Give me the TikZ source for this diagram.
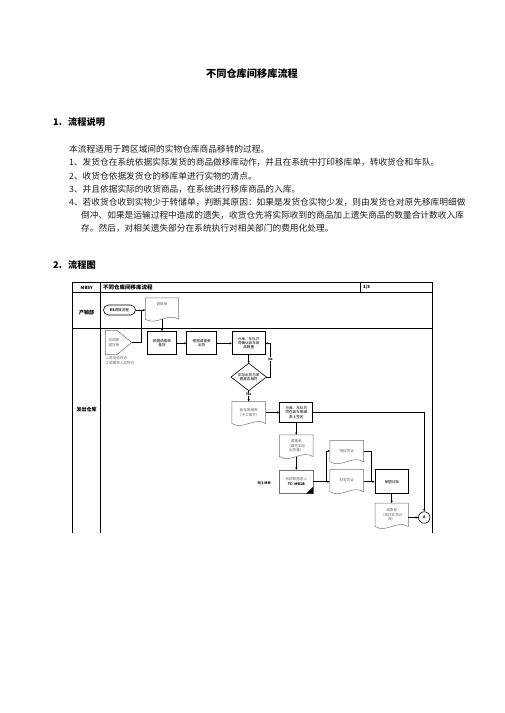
\documentclass[tikz,border=0pt]{standalone}
\usepackage{fontspec}
\setmainfont{Noto Sans CJK SC}
\usetikzlibrary{calc,arrows.meta}
\newcommand\docshape[1]{\draw[docline] (#1.south east) .. controls ($(#1.south west)!0.667!(#1.south east)+(0,-7)$) and ($(#1.south west)!0.333!(#1.south east)+(0,7)$) .. (#1.south west) -- (#1.north west) -- (#1.north east) -- cycle;}
\tikzset{
  titletext/.style={font=\fontsize{10.2}{12}\selectfont\bfseries, inner sep=0},
  headtext/.style={font=\fontsize{9.2}{11}\selectfont\bfseries, anchor=west, inner sep=0},
  bodytext/.style={font=\fontsize{8.7}{10}\selectfont, text=black!88, anchor=west, inner sep=0},
  frameline/.style={line width=0.9pt},
  tiny/.style={font=\fontsize{3.6}{4.3}\selectfont, align=center, inner sep=0},
  boxnode/.style={tiny, draw, line width=0.95pt, minimum width=32.7pt, minimum height=22pt},
  docnode/.style={tiny, text=black!60, minimum width=33.3pt},
  docline/.style={draw=black!55, line width=0.5pt},
  conn/.style={line width=0.6pt, -{Stealth[length=2.4pt,width=2.2pt]}},
  plainline/.style={line width=0.6pt},
  lanetext/.style={font=\fontsize{5}{6}\selectfont\bfseries, inner sep=0},
  yesno/.style={font=\fontsize{3.2}{4}\selectfont\bfseries, fill=white, inner sep=0.3pt},
}
\begin{document}
\begin{tikzpicture}[x=1pt,y=-1pt]
\useasboundingbox (0,0) rectangle (504,713);
\fill[white] (0,0) rectangle (504,713);

% title and text
\node[titletext] (title) at (252,73.5) {不同仓库间移库流程};
\node[headtext] (h1n) at (53,122) {1.};
\node[headtext] (h1) at (68,122) {流程说明};
\node[bodytext] (l0) at (69,149.5) {本流程适用于跨区域间的实物仓库商品移转的过程。};
\node[bodytext] (l1) at (69,162.7) {1、发货仓在系统依据实际发货的商品做移库动作，并且在系统中打印移库单，转收货仓和车队。};
\node[bodytext] (l2) at (69,175.9) {2、收货仓依据发货仓的移库单进行实物的清点。};
\node[bodytext] (l3) at (69,189.1) {3、并且依据实际的收货商品，在系统进行移库商品的入库。};
\node[bodytext] (l4) at (69,202.3) {4、若收货仓收到实物少于转储单，判断其原因：如果是发货仓实物少发，则由发货仓对原先移库明细做};
\node[bodytext] (l5) at (81,215.5) {倒冲、如果是运输过程中造成的遗失，收货仓先将实际收到的商品加上遗失商品的数量合计数收入库};
\node[bodytext] (l6) at (81,228.7) {存。然后，对相关遗失部分在系统执行对相关部门的费用化处理。};
\node[headtext] (h2n) at (53,265) {2.};
\node[headtext] (h2) at (68,265) {流程图};

% frame
\draw[frameline] (72.7,533) -- (72.7,282.3) -- (432,282.3) -- (432,533);
\draw[frameline] (100.7,282.3) -- (100.7,533);
\draw[frameline] (360.7,282.3) -- (360.7,292.5);
\draw[frameline] (72.7,292.5) -- (432,292.5);
\draw[frameline] (72.7,328.3) -- (432,328.3);
\node[font=\fontsize{4.3}{5}\selectfont\bfseries, inner sep=0] (hid) at (86.7,287.4) {MBSY};
\node[font=\fontsize{5.5}{6}\selectfont\bfseries, anchor=west, inner sep=0] (htitle) at (103,287.4) {不同仓库间移库流程};
\node[font=\fontsize{4.3}{5}\selectfont\bfseries, anchor=west, inner sep=0] (hpg) at (363,287.4) {1/3};
\node[lanetext] (lane1) at (86.7,312.5) {产销部};
\node[lanetext] (lane2) at (86.7,409.3) {发出仓库};

% lane 1
\node[tiny, draw, line width=0.6pt, rounded corners=5pt, minimum width=32pt, minimum height=10pt] (term) at (119.5,310) {\textbf{ES}调拨流程};
\node[docnode, minimum height=21pt, minimum width=33pt] (d1) at (162,308.5) {调拨单\\ \mbox{}\\ \mbox{}};
\docshape{d1}

% lane 2
\node[tiny, text=black!60, minimum width=26pt, minimum height=24pt, text width=20pt, align=left] (pent) at (118.5,342.5) {合调拨\\提货单};
\draw[docline] (pent.north west) -- ($(pent.north west)!0.44!(pent.north east)$) -- (pent.east) -- ($(pent.south west)!0.44!(pent.south east)$) -- (pent.south west) -- cycle;
\node[tiny, text=black!60, anchor=west] (note1) at (106,358.3) {1.发货仓存点};
\node[tiny, text=black!60, anchor=west] (note2) at (106,363) {2.调拨单入实物仓};

\node[boxnode, minimum width=29.3pt, minimum height=23.3pt] (b1) at (162,343.3) {根据调拨单\\备货};
\node[boxnode, minimum width=30pt, minimum height=23.3pt] (b2) at (201.7,343.3) {根据调拨单\\出货};
\node[boxnode, minimum height=23.3pt] (b3) at (248.7,343.3) {仓库、车队共\\同确认装车商\\品数量};
\node[tiny, minimum width=35pt, minimum height=27pt] (dia) at (248.7,377) {实际出货与单\\据是否相符};
\draw[plainline] (dia.north) -- (dia.east) -- (dia.south) -- (dia.west) -- cycle;
\node[docnode, minimum height=21.6pt] (dd) at (248.7,412.5) {装车明细表\\（手工填写）};
\docshape{dd}
\node[boxnode, minimum height=20pt] (b4) at (296.3,412.5) {仓库、车队共\\同在装车明细\\表上签名};
\node[docnode, minimum height=21.3pt] (d3) at (296.3,445.7) {调拨单\\（填写实际\\出货量）};
\docshape{d3}
\node[tiny, draw=black!55, line width=0.5pt, minimum width=33.3pt, minimum height=23.3pt] (sap) at (296.3,481.7) {\textcolor{black!60}{系统数据录入}\\[0.6pt]\textbf{TC: MB1B}};
\fill (sap.south east) -- ++(-7,0) -- ++(7,-7) -- cycle;
\node[font=\fontsize{3.6}{4}\selectfont\bfseries, anchor=east, inner sep=0] (r3) at (271,483) {R/3 MM};
\node[docnode, minimum height=21pt] (dm) at (346.7,451) {物料凭证};
\docshape{dm}
\node[docnode, minimum height=22pt] (df) at (346.7,480.5) {财务凭证};
\docshape{df}
\node[boxnode, minimum width=33.3pt, minimum height=24pt] (arc) at (391.7,481.7) {单据归档};
\node[docnode, minimum width=32.7pt, minimum height=23pt] (d6) at (391.7,514.8) {调拨单\\（发往收货仓\\库）};
\docshape{d6}
\node[tiny, draw, circle, line width=0.6pt, minimum size=11.5pt] (A) at (424.2,517.5) {\textbf{A}};

% connectors
\coordinate (j1) at (141,310);
\coordinate (nc) at (270.5,343.3);
\coordinate (br) at (326.7,481.7);
\coordinate (bj) at (371.7,481.7);
\draw[conn] (term.east) -- (term.east -| d1.west);
\draw[plainline] (pent.east) -| (j1);
\draw[conn] (d1.south) -- (b1.north);
\draw[conn] (b1.east) -- (b2.west);
\draw[conn] (b2.east) -- (b3.west);
\draw[conn] (b3.south) -- (dia.north);
\draw[conn] (dia.east) -| (nc) -- (b3.east);
\node[yesno] (no) at (270.5,359) {No};
\draw[conn] (dia.south) -- (dd.north);
\node[yesno] (yes) at (248.7,394.5) {Yes};
\draw[conn] (dd.east) -- (b4.west);
\draw[conn] (b4.east) -| (A.north);
\draw[conn] (b4.south) -- (d3.north);
\draw[conn] (d3.south) -- (sap.north);
\draw[plainline] (sap.east) -- (br);
\draw[conn] (br) |- (dm.west);
\draw[conn] (br) -- (df.west |- br);
\draw[plainline] (dm.east) -| (bj);
\draw[conn] (df.east |- bj) -- (arc.west);
\draw[conn] (arc.south) -- (d6.north);
\draw[conn] (d6.east |- A.west) -- (A.west);
\end{tikzpicture}
\end{document}
